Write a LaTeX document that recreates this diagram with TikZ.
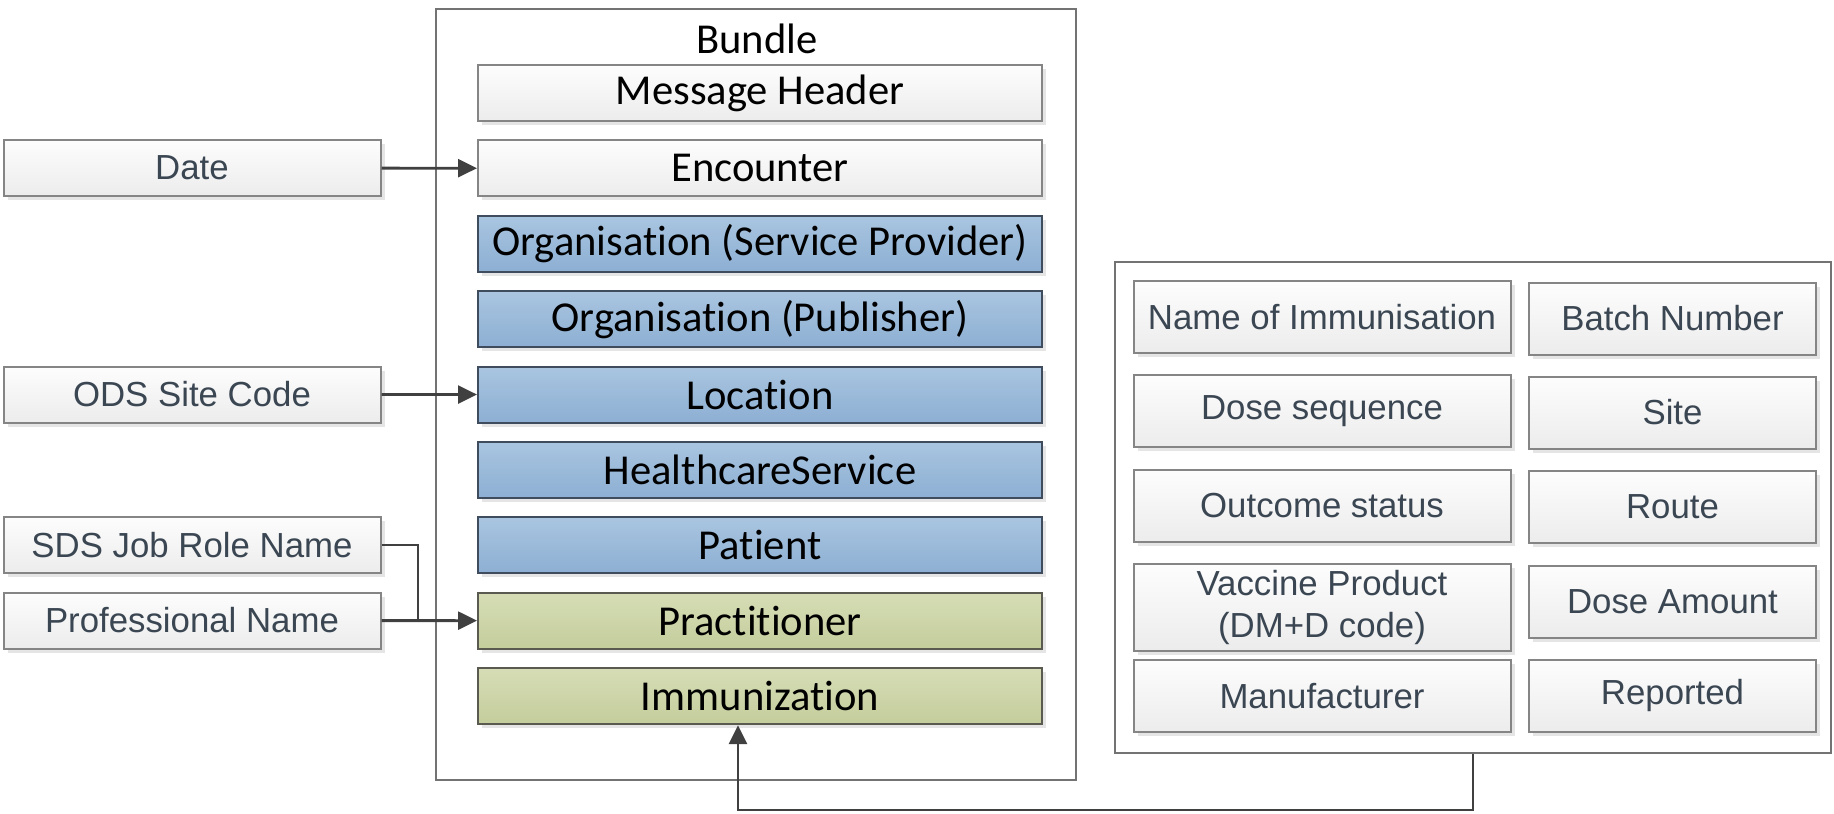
\documentclass[tikz,border=0pt]{standalone}
\usepackage{fontspec}
\setmainfont{Liberation Sans}
\newfontfamily\calfont[Ligatures=NoCommon]{Carlito}
\usetikzlibrary{arrows.meta,shadows,positioning}
\definecolor{greytop}{HTML}{FDFDFD}
\definecolor{greybot}{HTML}{ECECEC}
\definecolor{bluetop}{HTML}{A9C5E0}
\definecolor{bluebot}{HTML}{8DAFD3}
\definecolor{greentop}{HTML}{D6DDB6}
\definecolor{greenbot}{HTML}{C4CD9C}
\definecolor{boxline}{HTML}{858585}
\definecolor{blueline}{HTML}{3E4C5E}
\definecolor{greenline}{HTML}{5A5A50}
\definecolor{slate}{HTML}{3B4653}
\definecolor{linkcol}{HTML}{404040}
\begin{document}
\begin{tikzpicture}[x=0.5pt,y=-0.5pt,
    plain/.style={draw=boxline,line width=1pt,top color=greytop,bottom color=greybot,
      text=slate,font=\fontsize{17.4}{21}\selectfont,align=center,inner sep=0pt,
      drop shadow={shadow xshift=2pt,shadow yshift=-2pt,fill=black!10,opacity=1},
      minimum height=28pt},
    res/.style={plain,text=black,font=\calfont\fontsize{21.3}{25}\selectfont,minimum width=282pt},
    blueres/.style={res,draw=blueline,top color=bluetop,bottom color=bluebot},
    greenres/.style={res,draw=greenline,top color=greentop,bottom color=greenbot},
    source/.style={plain,minimum width=188.5pt},
    field/.style={plain,minimum width=188.5pt,minimum height=36pt},
    narrow/.style={field,minimum width=143.5pt},
    holder/.style={draw=black!55,line width=0.7pt,inner sep=0pt},
    wire/.style={draw=linkcol,line width=1.4pt},
    link/.style={wire,-{Triangle[length=9.5pt,width=9pt]}}]
\useasboundingbox (0,0) rectangle (1834,813);
% Bundle
\node[holder,minimum width=320pt,minimum height=385.5pt] (bundle) at (756,394.5) {};
\node[font=\calfont\fontsize{21.3}{25}\selectfont] (bundletitle) at (757,39) {Bundle};
\foreach \name/\txt/\sty [count=\i from 0] in {hdr/Message Header/res,enc/Encounter/res,
    orgsp/Organisation (Service Provider)/blueres,orgpub/Organisation (Publisher)/blueres,
    loc/Location/blueres,hcs/HealthcareService/blueres,pat/Patient/blueres,
    prac/Practitioner/greenres,imm/Immunization/greenres}
  \node[\sty] (\name) at (760,{93+75.4*\i}) {\txt};
% sources on the left
\node[source] (date) at (192,168) {Date};
\node[source] (ods) at (192,394.5) {ODS Site Code};
\node[source] (sds) at (192,545) {SDS Job Role Name};
\node[source] (prof) at (192,620.5) {Professional Name};
% immunisation details
\node[holder,minimum width=358pt,minimum height=245.5pt] (details) at (1473,507.5) {};
\node[field] (immname) at (1322,317) {Name of Immunisation};
\node[field] (doseseq) at (1322,411) {Dose sequence};
\node[field] (outcome) at (1322,505.5) {Outcome status};
\node[field,minimum height=43.5pt] (vaccine) at (1322,607) {Vaccine Product\\(DM+D code)};
\node[field] (manuf) at (1322,696) {Manufacturer};
\node[narrow] (batch) at (1672.5,318.5) {Batch Number};
\node[narrow] (site) at (1672.5,412.5) {Site};
\node[narrow] (route) at (1672.5,507) {Route};
\node[narrow] (doseamt) at (1672.5,601.5) {Dose Amount};
\node[narrow] (reported) at (1672.5,695.5) {Reported};
% links
\draw[link] (date) -- (enc);
\draw[link] (ods) -- (loc);
\coordinate (jn) at (418,620.5);
\draw[wire] (sds.east) -| (jn);
\draw[link] (prof) -- (prac);
\coordinate (turn) at (1473,810);
\draw[link] (details.south) |- (turn) -| ([xshift=-11pt]imm.south);
\end{tikzpicture}
\end{document}
